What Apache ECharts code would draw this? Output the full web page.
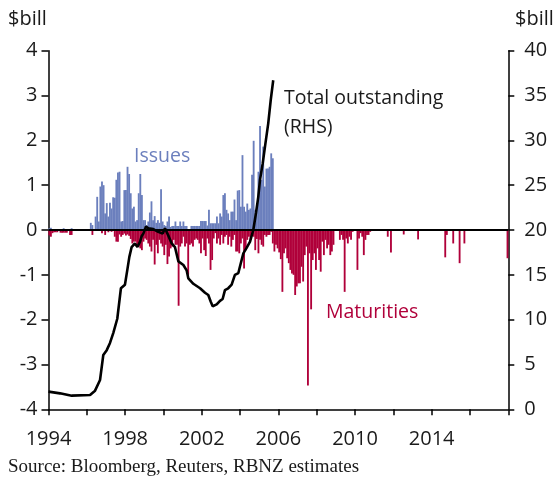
<!DOCTYPE html>
<html><head><meta charset="utf-8">
<script src="https://cdn.jsdelivr.net/npm/echarts@6/dist/echarts.min.js"></script>
<style>html,body{margin:0;padding:0;background:#fff}#c{width:556px;height:481px}</style>
</head><body><div id="c"></div>
<script>
// Monthly issues ($bn), Jan 1994 .. Sep 2005
const issues = [
0.04,0.05,0,0,0,0,0,0,0,0.04,
0,0,0,0,0.04,0,0,0,0,0,
0,0,0,0,0,0,0.16,0.11,0,0.3,
0.74,0.19,0.97,1.08,1.0,0.37,0.6,0.3,0.61,0.48,
0.73,0.72,1.12,1.28,1.3,0.19,0.2,0.89,0.89,1.41,
1.25,0.82,0.48,0.52,0.19,0.22,0.82,1.25,0.78,0.22,
0.22,0.11,0.19,0.39,0.64,0.22,0.31,0.16,0.22,0.16,
0.91,0.19,0.11,0.09,0.19,0.3,0.07,0.09,0.09,0.19,
0.09,0.09,0.19,0.09,0.19,0.09,0.09,0,0,0.09,
0.09,0.09,0.09,0.09,0.09,0.2,0.2,0.2,0.2,0.1,
0.45,0.15,0.15,0.15,0.15,0.3,0.15,0.37,0.3,0.78,
0.82,0.45,0.37,0.22,0.41,0.41,0.68,0.22,0.88,0.89,
0.52,1.67,0.52,0.41,0.59,0.45,0.48,1.23,1.99,0.45,
0.48,1.3,2.32,1.12,1.86,0.97,1.37,1.37,1.41,1.71,
1.6
];
// Monthly maturities ($bn, shown below zero), Jan 1994 .. Dec 2017
const maturities = [
0.12,0.15,0.07,0.05,0.05,0.05,0,0.06,0.06,0.06,
0.06,0.06,0,0.11,0.11,0,0,0,0,0,
0,0,0,0,0,0,0,0.11,0,0,
0,0,0,0.07,0,0.11,0,0.05,0,0.04,
0,0.15,0.26,0.26,0.1,0.15,0.11,0.08,0.12,0.1,
0.13,0.2,0.3,0.26,0.26,0.33,0.37,0.41,0.45,0.26,
0.19,0.22,0.3,0.37,0.48,0.22,0.77,0.33,0.52,0.22,
0.3,0.37,0.56,0.33,0.76,0.59,0.41,0.37,0.22,0.33,
0.33,1.69,0.37,0.3,0.15,0.37,0.3,1.0,0.33,0.3,
0.37,0.22,0.19,0.22,0.3,0.52,0.19,0.45,0.58,0.19,
0.3,0.89,0.67,0.19,0.07,0.3,0.19,0.33,0.11,0.3,
0.15,0.11,0.33,0.15,0.37,0.22,0.11,0.48,0.48,0.52,
0.3,0.19,0.86,0.45,0.22,0.15,0.22,0.11,0.15,0.45,
0.2,0.52,0.22,0.33,0.37,0.11,0.15,0.11,0.11,0.04,
0.3,0.48,0.33,0.41,0.5,0.65,1.38,0.52,0.41,0.63,
0.74,0.89,0.97,1.0,1.45,1.26,1.19,1.19,0.82,1.15,
0.56,0.37,3.47,0.52,1.77,0.67,0.52,0.89,0.41,0.67,
0.93,0.26,0.56,0.22,0.41,0.33,0.56,0.48,0.33,0,
0,0,0.22,0.11,0.22,1.38,0.19,0.3,0.15,0.22,
0.04,0,0,0.89,0.19,0.07,0.15,0.56,0.22,0.11,
0.11,0.04,0,0,0,0,0,0,0,0,
0,0,0.15,0,0.5,0,0,0,0,0,
0,0,0.1,0,0,0,0,0,0,0,
0,0.21,0,0,0,0,0,0,0,0,
0,0,0,0,0,0,0,0,0.61,0.11,
0,0,0,0.3,0,0,0,0.74,0,0,
0.3,0,0,0,0,0,0,0,0,0,
0,0,0,0,0,0,0,0,0,0,
0,0,0,0,0,0,0,0.63
];
// Total outstanding ($bn, RHS)
const lineYears = [1994.0,1994.6,1995.21,1996.17,1996.43,1996.69,1996.86,1997.04,1997.21,1997.38,1997.59,1997.78,1997.99,1998.11,1998.22,1998.34,1998.51,1998.64,1998.78,1998.86,1998.95,1999.09,1999.21,1999.47,1999.73,1999.96,2000.08,2000.25,2000.43,2000.6,2000.78,2001.04,2001.21,2001.3,2001.56,2001.91,2002.17,2002.34,2002.47,2002.57,2002.78,2002.95,2003.09,2003.21,2003.38,2003.56,2003.73,2003.91,2003.99,2004.17,2004.34,2004.52,2004.69,2004.83,2004.95,2005.04,2005.18,2005.3,2005.47,2005.6,2005.73];
const lineValues = [1.97,1.78,1.52,1.6,2.08,3.27,6.06,6.6,7.4,8.5,10.1,13.5,13.9,15.5,17.0,18.1,18.5,18.1,18.7,19.3,19.6,20.4,20.2,20.1,19.8,19.6,20.2,19.4,18.5,18.1,16.5,16.1,15.5,14.6,14.0,13.5,13.0,12.75,12.0,11.5,11.7,12.1,12.3,13.3,13.5,13.9,15.0,15.2,15.9,17.4,18.0,18.7,20.0,21.9,23.7,25.6,27.4,29.3,31.9,34.5,36.7];
const leftTicks = {min:-4,max:4,interval:1};
const rightTicks = {min:0,max:40,interval:5};
const xTicks = {min:1994,max:2018,interval:2,labelEvery:4};

const startYear = 1994;
const monthT = i => startYear + (i + 0.5) / 12;
const issueData = issues.map((v,i)=>[monthT(i), v]);
const matData = maturities.map((v,i)=>[monthT(i), -v]);
const lineData = lineYears.map((t,i)=>[t, lineValues[i]]);

const FONT = '"Open Sans", "Noto Sans", sans-serif';
const txt = '#1a1a1a';
const chart = echarts.init(document.getElementById('c'), null, {renderer:'canvas'});
chart.setOption({
  animation:false,
  backgroundColor:'#fff',
  grid:{left:48.5, right:47.7, top:50.7, bottom:71.7, containLabel:false},
  xAxis:{type:'value', min:xTicks.min, max:xTicks.max, interval:xTicks.interval,
    axisLine:{show:true, onZero:false, lineStyle:{color:'#000', width:1.5}},
    axisTick:{show:true, inside:false, length:6, lineStyle:{color:'#000', width:1.5}},
    splitLine:{show:false},
    axisLabel:{margin:20, color:txt, fontSize:20, fontFamily:FONT,
      formatter:v => ((v - xTicks.min) % xTicks.labelEvery === 0 && v < xTicks.max) ? String(v) : ''}
  },
  yAxis:[
    {type:'value', min:leftTicks.min, max:leftTicks.max, interval:leftTicks.interval, position:'left',
      axisLine:{show:true, onZero:false, lineStyle:{color:'#000', width:1.5}},
      axisTick:{show:true, inside:false, length:7, lineStyle:{color:'#000', width:1.5}},
      splitLine:{show:false},
      axisLabel:{margin:11, color:txt, fontSize:20, fontFamily:FONT}},
    {type:'value', min:rightTicks.min, max:rightTicks.max, interval:rightTicks.interval, position:'right',
      axisLine:{show:true, onZero:false, lineStyle:{color:'#000', width:1.5}},
      axisTick:{show:true, inside:false, length:6, lineStyle:{color:'#000', width:1.5}},
      splitLine:{show:false},
      axisLabel:{margin:16, color:txt, fontSize:20, fontFamily:FONT}}
  ],
  series:[
    {name:'Issues', type:'bar', data:issueData, barWidth:1.85, barGap:'-100%', itemStyle:{color:'#6b7fbd'}, z:2,
      markLine:{silent:true, symbol:['none','none'], label:{show:false}, z:5,
        lineStyle:{color:'#000', width:2, type:'solid'}, data:[{yAxis:0}]}},
    {name:'Maturities', type:'bar', data:matData, barWidth:1.85, barGap:'-100%', itemStyle:{color:'#b0003a'}, z:2},
    {name:'Total outstanding', type:'line', yAxisIndex:1, data:lineData, showSymbol:false, symbol:'none',
      lineStyle:{color:'#000', width:2.6}, z:10}
  ],
  graphic:[
    {type:'text', left:8, top:9, style:{text:'$bill', font:'20px '+FONT, fill:txt}},
    {type:'text', left:515, top:9, style:{text:'$bill', font:'20px '+FONT, fill:txt}},
    {type:'text', left:134, top:146, style:{text:'Issues', font:'19.5px '+FONT, fill:'#6b7fbd'}},
    {type:'text', left:284, top:84, style:{text:'Total outstanding\n(RHS)', font:'19.5px '+FONT, fill:txt, lineHeight:29}},
    {type:'text', left:326, top:302, style:{text:'Maturities', font:'19.5px '+FONT, fill:'#b0003a'}},
    {type:'text', left:8, top:458, style:{text:'Source: Bloomberg, Reuters, RBNZ estimates', font:'19px "Liberation Serif", "Times New Roman", serif', fill:txt}}
  ]
});
</script></body></html>
